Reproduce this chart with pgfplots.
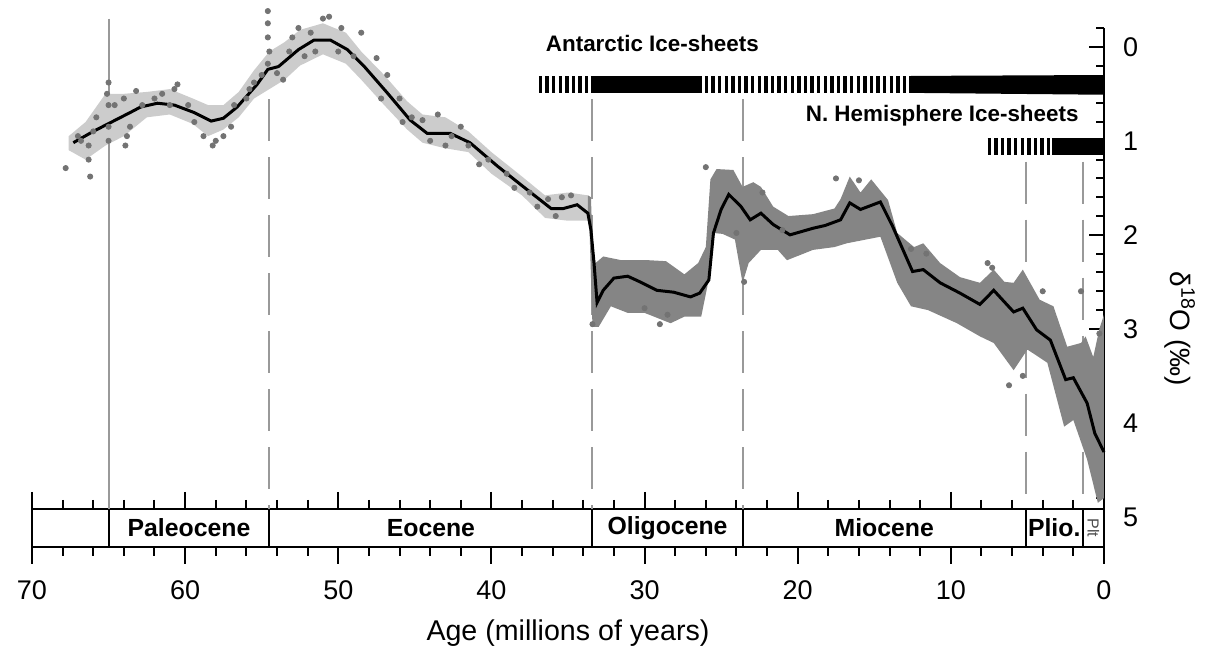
\documentclass[border=0pt]{standalone}
\usepackage{pgfplots}
\pgfplotsset{compat=1.18}
\usepackage{fontspec}
\setmainfont{Liberation Sans}

% benthic oxygen-isotope record: upper/lower envelope of the scatter
\pgfplotstableread{
age d18O
67.6 0.95
66.5 0.80
65.2 0.50
64.0 0.50
62.5 0.48
61.0 0.45
59.5 0.55
58.5 0.62
57.5 0.62
56.5 0.48
55.5 0.25
54.5 0.05
53.5 -0.05
52.5 -0.18
51.0 -0.25
49.5 -0.15
48.5 0.05
47.0 0.30
45.5 0.58
44.5 0.72
43.0 0.75
41.5 0.90
40.0 1.12
38.0 1.38
36.5 1.58
35.0 1.55
33.7 1.58
33.7 1.85
35.0 1.85
36.5 1.82
38.0 1.58
40.0 1.35
41.5 1.12
43.0 1.08
44.5 1.02
45.5 0.88
47.0 0.62
48.5 0.35
49.5 0.18
51.0 0.08
52.5 0.20
53.5 0.35
54.5 0.45
55.5 0.55
56.5 0.75
57.5 0.88
58.5 0.95
59.5 0.82
61.0 0.72
62.5 0.75
64.0 0.95
65.2 1.05
66.5 1.20
67.6 1.10
}\oldband

\pgfplotstableread{
age d18O
33.7 1.58
33.5 1.60
33.4 2.10
33.2 2.30
32.7 2.23
31.5 2.27
29.7 2.27
28.6 2.28
27.4 2.42
26.5 2.30
26.0 2.13
25.7 1.41
25.3 1.30
24.2 1.31
23.6 1.49
22.9 1.44
22.4 1.49
21.6 1.70
20.6 1.80
19.0 1.78
17.6 1.72
17.2 1.62
16.6 1.38
15.9 1.55
15.2 1.41
14.1 1.63
13.5 1.98
12.4 2.13
11.8 2.09
10.7 2.30
9.4 2.45
8.1 2.51
7.2 2.37
6.5 2.50
5.9 2.51
5.3 2.37
4.2 2.69
3.3 2.76
2.4 3.19
1.5 3.15
1.2 3.08
0.7 3.30
0.3 3.00
0.0 2.85
0.0 4.80
0.4 4.85
1.1 4.39
2.0 3.97
2.6 4.04
3.7 3.36
5.0 3.22
5.9 3.44
7.2 3.15
8.1 3.08
9.6 2.94
11.5 2.80
12.6 2.76
13.5 2.51
14.6 2.02
16.8 2.09
17.6 2.13
19.0 2.16
20.7 2.27
21.3 2.16
22.4 2.16
23.2 2.30
23.6 2.51
24.1 2.05
24.9 1.99
25.5 1.98
25.9 2.55
26.3 2.87
27.4 2.87
28.3 2.94
30.0 2.83
31.1 2.83
32.2 2.76
33.0 2.98
33.4 2.98
33.6 1.90
33.7 1.85
}\denseband

% smoothed record
\pgfplotstableread{
age d18O
67.3 1.02
66.0 0.90
64.8 0.80
63.6 0.70
62.9 0.64
61.8 0.60
60.7 0.62
59.4 0.70
58.3 0.79
57.5 0.76
56.6 0.64
55.3 0.40
54.6 0.24
53.9 0.21
52.6 0.03
51.6 -0.07
50.5 -0.07
49.4 0.03
48.3 0.21
46.8 0.49
45.3 0.78
44.2 0.92
42.7 0.92
41.4 1.02
39.6 1.27
37.9 1.49
36.1 1.72
35.3 1.72
34.4 1.68
33.7 1.77
33.5 1.95
33.3 2.30
33.1 2.72
32.7 2.59
32.0 2.46
31.1 2.44
30.3 2.50
29.2 2.59
28.1 2.61
27.0 2.66
26.4 2.62
25.8 2.48
25.5 1.98
25.0 1.73
24.5 1.57
23.7 1.70
23.1 1.84
22.4 1.77
21.6 1.89
20.5 2.00
19.0 1.93
18.2 1.90
17.2 1.84
16.6 1.66
15.9 1.73
14.6 1.65
13.8 1.91
12.5 2.39
11.8 2.37
10.7 2.51
9.4 2.62
8.1 2.74
7.2 2.59
5.9 2.82
5.3 2.78
4.4 3.01
3.5 3.12
2.5 3.54
2.0 3.52
1.1 3.79
0.6 4.11
0.0 4.31
}\smoothed

\begin{document}
\begin{tikzpicture}
\path[use as bounding box] (-16pt,-49.5pt) rectangle (589.5pt,273.5pt);

% epoch strip with the age axis
\begin{axis}[
  scale only axis, width=536pt, height=19pt,
  xmin=0, xmax=70, x dir=reverse, ymin=0, ymax=1,
  ytick=\empty,
  xtick={0,10,...,70}, minor x tick num=4,
  xtick pos=both, xticklabel pos=lower,
  tick align=outside, major tick length=8.5pt, minor tick length=4.5pt,
  every tick/.style={black, line width=1pt},
  axis line style={line width=1pt},
  /pgf/number format/assume math mode=true,
  xticklabel style={font=\fontsize{13.5}{15}\selectfont, yshift=-5pt},
  xlabel={Age (millions of years)},
  xlabel style={font=\fontsize{14.3}{16}\selectfont, yshift=-3pt},
  clip=false,
]
\foreach \b in {65,54.5,33.4,23.6,5.1,1.4}{
  \edef\tmp{\noexpand\draw[line width=1pt] (axis cs:\b,0) -- (axis cs:\b,1);}\tmp
}
\begin{scope}[font=\bfseries\fontsize{12.4}{13}\selectfont]
\node at (axis cs:59.75,0.5) {Paleocene};
\node at (axis cs:43.95,0.5) {Eocene};
\node at (axis cs:28.5,0.5) {Oligocene};
\node at (axis cs:14.35,0.5) {Miocene};
\node at (axis cs:3.25,0.5) {Plio.};
\end{scope}
\node[rotate=-90, font=\fontsize{8}{9}\selectfont, text=black!70] at (axis cs:0.7,0.5) {Plt};
\end{axis}

% isotope record
\begin{axis}[
  scale only axis, width=536pt, height=259.5pt,
  xmin=0, xmax=70, x dir=reverse,
  ymin=-0.2, ymax=5.32, y dir=reverse,
  axis x line=none, axis y line*=right,
  axis line style={-, line width=1pt},
  ytick={0,1,2,3,4},
  minor ytick={-0.2,0.2,0.4,0.6,0.8,1.2,1.4,1.6,1.8,2.2,2.4,2.6,2.8,3.2,3.4,3.6,3.8,4.2,4.4,4.6,4.8},
  extra y ticks={5}, extra y tick style={major tick length=0pt},
  tick align=inside, major tick length=7.5pt, minor tick length=4pt,
  every tick/.style={black, line width=1pt},
  /pgf/number format/assume math mode=true,
  yticklabel style={font=\fontsize{13.5}{15}\selectfont, xshift=6pt},
  clip=false,
]
% epoch boundaries
\addplot[black!40, line width=1pt] coordinates {(65,-0.3) (65,4.915)};
\addplot[black!40, line width=1pt, dash pattern=on 21pt off 8pt] coordinates {(54.5,0.56) (54.5,4.915)};
\addplot[black!40, line width=1pt, dash pattern=on 21pt off 8pt] coordinates {(33.4,0.56) (33.4,4.915)};
\addplot[black!40, line width=1pt, dash pattern=on 21pt off 8pt] coordinates {(23.6,0.56) (23.6,4.915)};
\addplot[black!40, line width=1pt, dash pattern=on 21pt off 8pt] coordinates {(5.1,1.22) (5.1,4.915)};
\addplot[black!40, line width=1pt, dash pattern=on 21pt off 8pt] coordinates {(1.4,1.22) (1.4,4.915)};

% scatter of the measurements
\addplot[fill=black!20, draw=none] table[x=age, y=d18O] {\oldband};
\addplot[fill=black!48, draw=none] table[x=age, y=d18O] {\denseband};
\addplot[black!55, only marks, mark=*, mark size=1.3pt, mark options={draw=none, fill=black!55}] coordinates {
(67.8,1.29) (66.2,1.38) (66.3,1.2) (66.3,1.05) (66.0,0.9) (65.8,0.75) (65.1,0.5) (65.0,0.38)
(65.0,0.62) (65.0,0.85) (65.0,1.0) (66.8,1.0) (67.0,0.95)
(64.6,0.62) (64.0,0.55) (63.2,0.47) (62.8,0.62) (61.5,0.50) (60.5,0.40) (60.7,0.45) (63.8,0.95)
(63.9,1.05) (63.6,0.85) (59.4,0.80) (58.8,0.95) (58.2,1.05) (58.0,1.0) (57.5,0.95) (56.8,0.62)
(62.0,0.55) (61.0,0.62) (59.8,0.62) (57.0,0.85) (56.0,0.55) (55.5,0.38)
(55.8,0.45) (55.0,0.30) (54.6,-0.38) (54.6,-0.25) (54.6,-0.1) (54.5,0.05) (53.6,0.35) (53.2,0.05)
(54.6,0.18) (54.0,0.28) (53.0,-0.1) (52.2,0.1) (51.5,0.05) (50.0,0.05) (49.0,0.1)
(52.6,-0.2) (51.8,-0.15) (51.0,-0.3) (50.6,-0.32) (49.8,-0.2) (48.5,-0.15) (47.5,0.12) (46.8,0.3)
(46,0.55) (45.2,0.75) (44.5,0.78) (43.5,0.72) (42.6,0.95) (42.0,0.85) (41.5,1.05) (40.2,1.2)
(44.0,1.0) (43.0,1.05) (45.8,0.8) (47.2,0.55) (40.8,1.25) (38.5,1.5) (37.0,1.7) (35.8,1.8)
(39.0,1.35) (37.5,1.55) (36.3,1.62) (35.4,1.6) (34.8,1.58)
(33.4,2.95) (30,2.78) (29,2.95) (28.5,2.85) (26.0,1.28) (24.0,1.98) (23.5,2.5) (22.3,1.55)
(21,1.95) (17.5,1.4) (16,1.42) (12.6,2.15) (11.6,2.2) (7.6,2.3) (7.3,2.35) (6.2,3.6)
(5.3,3.5) (4.0,2.6) (1.5,2.6) (0.3,3.05)
};
\addplot[black, line width=1.5pt] table[x=age, y=d18O] {\smoothed};

% ice-sheet bars
\addplot[black, line width=8.5pt, dash pattern=on 1.7pt off 1.6pt] coordinates {(36.9,0.40) (33.5,0.40)};
\addplot[black, line width=8.5pt] coordinates {(33.5,0.40) (26.5,0.40)};
\addplot[black, line width=8.5pt, dash pattern=on 1.7pt off 1.6pt] coordinates {(26.5,0.40) (12.6,0.40)};
\addplot[fill=black, draw=none] coordinates {(12.6,0.31) (0,0.30) (0,0.51) (12.6,0.49)};
\addplot[black, line width=8.5pt, dash pattern=on 1.7pt off 1.6pt] coordinates {(7.6,1.06) (3.4,1.06)};
\addplot[black, line width=8.5pt] coordinates {(3.4,1.06) (0,1.06)};

\node[anchor=west, font=\bfseries\fontsize{11.2}{12}\selectfont] at (axis cs:36.9,-0.03) {Antarctic Ice-sheets};
\node[anchor=east, font=\bfseries\fontsize{11.2}{12}\selectfont] at (axis cs:1.2,0.73) {N. Hemisphere Ice-sheets};
\node[font=\fontsize{14}{15}\selectfont, xshift=38pt, rotate=-90] at (axis cs:0,3.0) {δ\textsuperscript{18}O (‰)};
\end{axis}
\end{tikzpicture}
\end{document}
